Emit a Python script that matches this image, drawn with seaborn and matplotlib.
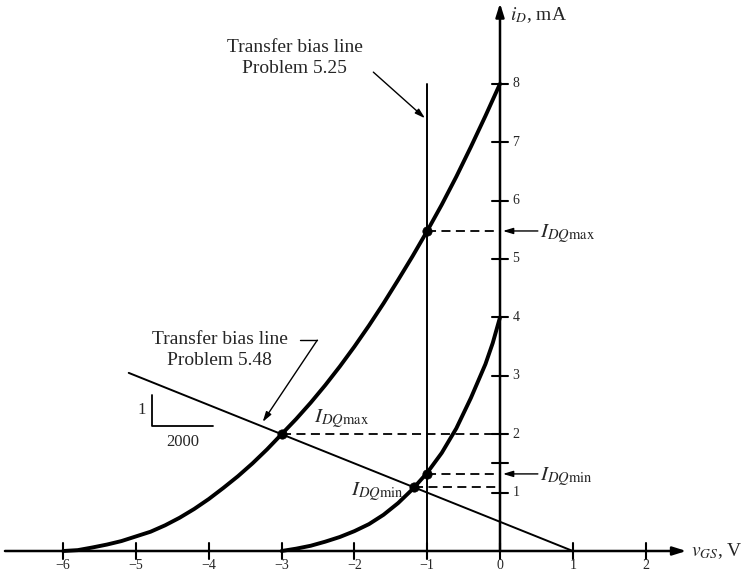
import matplotlib
matplotlib.use("Agg")
import matplotlib.pyplot as plt
import seaborn as sns
import numpy as np
import pandas as pd

# transfer curves (v_GS in V, i_D in mA)
vgs_outer = [-6.0, -5.8, -5.6, -5.4, -5.2, -5.0, -4.8, -4.6, -4.4, -4.2, -4.0, -3.8, -3.6, -3.4, -3.2, -3.0,
             -2.8, -2.6, -2.4, -2.2, -2.0, -1.8, -1.6, -1.4, -1.2, -1.0, -0.8, -0.6, -0.4, -0.2, 0.0]
id_outer = [0.0, 0.015, 0.06, 0.11, 0.17, 0.25, 0.33, 0.44, 0.57, 0.72, 0.89, 1.08, 1.28, 1.50, 1.74, 2.0,
            2.26, 2.54, 2.84, 3.16, 3.50, 3.86, 4.24, 4.64, 5.05, 5.48, 5.93, 6.41, 6.92, 7.45, 8.0]
vgs_inner = [-3.0, -2.8, -2.6, -2.4, -2.2, -2.0, -1.8, -1.6, -1.4, -1.2, -1.0,
             -0.8, -0.6, -0.4, -0.2, -0.1, 0.0]
id_inner = [0.0, 0.04, 0.09, 0.16, 0.24, 0.34, 0.46, 0.62, 0.82, 1.06, 1.34,
            1.68, 2.10, 2.62, 3.20, 3.56, 4.0]

# bias lines
bias548_v = [-5.1, 1.0]
bias548_i = [3.05, 0.0]
bias525_v = [-1.0, -1.0]
bias525_i = [0.0, 8.0]

# Q points
q_v = [-3.0, -1.0, -1.0, -1.18]
q_i = [2.0, 5.48, 1.32, 1.09]

x_ticks = [-6, -5, -4, -3, -2, -1, 0, 1, 2]
y_ticks = [1, 2, 3, 4, 5, 6, 7, 8]
y_minor = [1.5]

sns.set_style("white")
plt.rcParams['font.family'] = ['Liberation Serif', 'DejaVu Serif']
plt.rcParams['mathtext.fontset'] = 'stix'

fig = plt.figure(figsize=(7.44, 5.77), dpi=100)
ax = fig.add_axes([0, 0, 1, 1])
ax.set_xlim(-500 / 72.8, 244 / 72.8)
ax.set_ylim(-26 / 58.4, 551 / 58.4)
ax.axis('off')

# axes with arrows
ax.annotate('', xy=(2.56, 0), xytext=(-6.8, 0),
            arrowprops=dict(arrowstyle='-|>,head_length=0.8,head_width=0.25', lw=1.8, color='black', shrinkA=0, shrinkB=0))
ax.annotate('', xy=(0, 9.38), xytext=(0, 0),
            arrowprops=dict(arrowstyle='-|>,head_length=0.8,head_width=0.25', lw=1.8, color='black', shrinkA=0, shrinkB=0))

for t in x_ticks:
    ax.plot([t, t], [-0.13, 0.13], color='black', lw=1.5)
    ax.text(t, -0.24, '\u2212%d' % abs(t) if t < 0 else str(t), ha='center', va='center', fontsize=10)
for t in y_ticks + y_minor:
    ax.plot([-0.11, 0.11], [t, t], color='black', lw=1.5)
for t in y_ticks:
    ax.text(0.17, t, str(t), ha='left', va='center', fontsize=10)

# curves
df_o = pd.DataFrame({'v': vgs_outer, 'i': id_outer})
df_i = pd.DataFrame({'v': vgs_inner, 'i': id_inner})
sns.lineplot(data=df_o, x='v', y='i', ax=ax, color='black', lw=2.8, sort=False, estimator=None)
sns.lineplot(data=df_i, x='v', y='i', ax=ax, color='black', lw=2.8, sort=False, estimator=None)

# bias lines
sns.lineplot(x=bias548_v, y=bias548_i, ax=ax, color='black', lw=1.4, sort=False, estimator=None)
sns.lineplot(x=bias525_v, y=bias525_i, ax=ax, color='black', lw=1.4, sort=False, estimator=None)

# dashed projections to i_D axis
for v, i in zip(q_v, q_i):
    ax.plot([v, 0], [i, i], color='black', lw=1.3, ls=(0, (5, 3)))
sns.scatterplot(x=q_v, y=q_i, ax=ax, color='black', s=45, edgecolor='black', zorder=5)

# labels
ax.text(0.14, 9.18, '$i_D$, mA', fontsize=14, ha='left', va='center')
ax.text(2.62, 0.0, '$v_{GS}$, V', fontsize=14, ha='left', va='center')

arr = dict(arrowstyle='-|>,head_length=0.6,head_width=0.18', lw=1.0, color='black', shrinkA=0, shrinkB=0)
ax.annotate('', xy=(0.04, q_i[1]), xytext=(0.52, q_i[1]), arrowprops=arr)
ax.annotate('', xy=(0.04, q_i[2]), xytext=(0.52, q_i[2]), arrowprops=arr)
ax.text(0.55, q_i[1] - 0.05, r'$I_{DQ\mathrm{max}}$', fontsize=15, ha='left', va='center')
ax.text(0.55, q_i[2] - 0.05, r'$I_{DQ\mathrm{min}}$', fontsize=15, ha='left', va='center')
ax.text(-2.55, 2.27, r'$I_{DQ\mathrm{max}}$', fontsize=15, ha='left', va='center')
ax.text(-1.33, 1.02, r'$I_{DQ\mathrm{min}}$', fontsize=15, ha='right', va='center')

ax.text(-2.82, 8.44, 'Transfer bias line\nProblem 5.25', fontsize=14, ha='center', va='center', linespacing=1.25)
ax.annotate('', xy=(-1.03, 7.41), xytext=(-1.74, 8.2), arrowprops=arr)

ax.text(-3.85, 3.44, 'Transfer bias line\nProblem 5.48', fontsize=14, ha='center', va='center', linespacing=1.25)
ax.plot([-2.75, -2.51], [3.61, 3.61], color='black', lw=1.0)
ax.annotate('', xy=(-3.26, 2.21), xytext=(-2.51, 3.61), arrowprops=arr)

# slope indicator 1 / 2000
ax.plot([-4.78, -4.78, -3.94], [2.67, 2.14, 2.14], color='black', lw=1.3)
ax.text(-4.86, 2.42, '1', fontsize=12, ha='right', va='center')
ax.text(-4.36, 1.86, '2000', fontsize=12, ha='center', va='center')

fig.savefig('out.png', dpi=100)
